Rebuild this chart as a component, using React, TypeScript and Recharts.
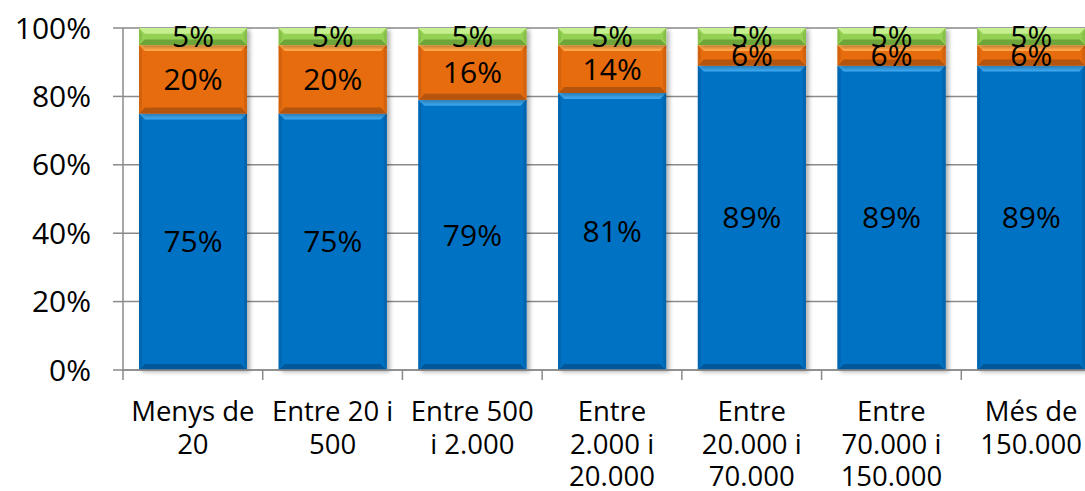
import { Bar, BarChart, CartesianGrid, LabelList, XAxis, YAxis } from 'recharts'

const categories = [
  'Menys de 20',
  'Entre 20 i 500',
  'Entre 500 i 2.000',
  'Entre 2.000 i 20.000',
  'Entre 20.000 i 70.000',
  'Entre 70.000 i 150.000',
  'Més de 150.000',
]
const tickLines = [
  ['Menys de', '20'],
  ['Entre 20 i', '500'],
  ['Entre 500', 'i 2.000'],
  ['Entre', '2.000 i', '20.000'],
  ['Entre', '20.000 i', '70.000'],
  ['Entre', '70.000 i', '150.000'],
  ['Més de', '150.000'],
]
const blueValues = [75, 75, 79, 81, 89, 89, 89]
const orangeValues = [20, 20, 16, 14, 6, 6, 6]
const greenValues = [5, 5, 5, 5, 5, 5, 5]
const yTicks = [0, 20, 40, 60, 80, 100]

const data = categories.map((name, i) => ({
  name,
  blue: blueValues[i],
  orange: orangeValues[i],
  green: greenValues[i],
}))

const W = 1110
const H = 491
const M = { top: 28, right: 9, left: 0, bottom: 0 }
const Y_W = 123
const X_H = 121
const plotBottom = H - M.bottom - X_H
const band = (W - M.left - M.right - Y_W) / categories.length
const FONT = '"Open Sans", sans-serif'
const AXIS = '#8a8a8a'

const palette = {
  blue: { base: '#0672c4', light: '#3aa6ee', dark: '#04599a', side: '#0566b0' },
  orange: { base: '#e66c0c', light: '#ffa548', dark: '#b5550a', side: '#d2620b' },
  green: { base: '#94d052', light: '#c6ef90', dark: '#6ea53a', side: '#86c048' },
}

function bevel(c: typeof palette.blue) {
  return (props: any) => {
    const { x, y, width: w, height: h } = props
    if (!h || h <= 0) return <g />
    const b = Math.min(6, h / 3)
    return (
      <g filter="url(#barShadow)">
        <rect x={x} y={y} width={w} height={h} fill={c.base} />
        <polygon points={`${x},${y} ${x + w},${y} ${x + w - b},${y + b} ${x + b},${y + b}`} fill={c.light} />
        <polygon points={`${x},${y + h} ${x + w},${y + h} ${x + w - b},${y + h - b} ${x + b},${y + h - b}`} fill={c.dark} />
        <polygon points={`${x},${y} ${x + b / 2},${y + b} ${x + b / 2},${y + h - b} ${x},${y + h}`} fill={c.side} />
        <polygon points={`${x + w},${y} ${x + w - b / 2},${y + b} ${x + w - b / 2},${y + h - b} ${x + w},${y + h}`} fill={c.side} />
      </g>
    )
  }
}

function XTick(props: any) {
  const { x, index } = props
  const lines = tickLines[index] || []
  return (
    <g>
      <line x1={x - band / 2} x2={x - band / 2} y1={plotBottom} y2={plotBottom + 10} stroke={AXIS} strokeWidth={1.5} />
      {index === categories.length - 1 && (
        <line x1={x + band / 2} x2={x + band / 2} y1={plotBottom} y2={plotBottom + 10} stroke={AXIS} strokeWidth={1.5} />
      )}
      {lines.map((t, i) => (
        <text
          key={i}
          x={x}
          y={plotBottom + 51 + i * 32.5}
          textAnchor="middle"
          fontFamily={FONT}
          fontSize={27.5}
          fill="#000"
        >
          {t}
        </text>
      ))}
    </g>
  )
}

const labelStyle = { fill: '#000', fontSize: 30, fontFamily: FONT }
const pct = (v: any) => `${v}%`

export default function App() {
  return (
    <div style={{ position: 'absolute', left: 0, top: 0, width: 1085, height: 491, overflow: 'hidden', background: '#fff' }}>
      <BarChart width={W} height={H} data={data} margin={M} barCategoryGap={16}>
        <defs>
          <filter id="barShadow" x="-10%" y="-10%" width="130%" height="130%">
            <feDropShadow dx="3" dy="2" stdDeviation="2" floodColor="#000" floodOpacity="0.3" />
          </filter>
        </defs>
        <CartesianGrid vertical={false} stroke={AXIS} strokeWidth={1.5} />
        <XAxis
          dataKey="name"
          height={X_H}
          interval={0}
          tickLine={false}
          axisLine={{ stroke: AXIS, strokeWidth: 1.5 }}
          tick={<XTick />}
        />
        <YAxis
          width={Y_W}
          domain={[0, 100]}
          ticks={yTicks}
          tickFormatter={pct}
          tickSize={10}
          tickMargin={22}
          axisLine={{ stroke: AXIS, strokeWidth: 1.5 }}
          tickLine={{ stroke: AXIS, strokeWidth: 1.5 }}
          tick={{ fill: '#000', fontSize: 30, fontFamily: FONT }}
        />
        <Bar dataKey="blue" stackId="a" isAnimationActive={false} shape={bevel(palette.blue)}>
          <LabelList dataKey="blue" position="center" formatter={pct} style={labelStyle} />
        </Bar>
        <Bar dataKey="orange" stackId="a" isAnimationActive={false} shape={bevel(palette.orange)}>
          <LabelList dataKey="orange" position="center" formatter={pct} style={labelStyle} />
        </Bar>
        <Bar dataKey="green" stackId="a" isAnimationActive={false} shape={bevel(palette.green)}>
          <LabelList dataKey="green" position="center" formatter={pct} style={labelStyle} />
        </Bar>
      </BarChart>
    </div>
  )
}
